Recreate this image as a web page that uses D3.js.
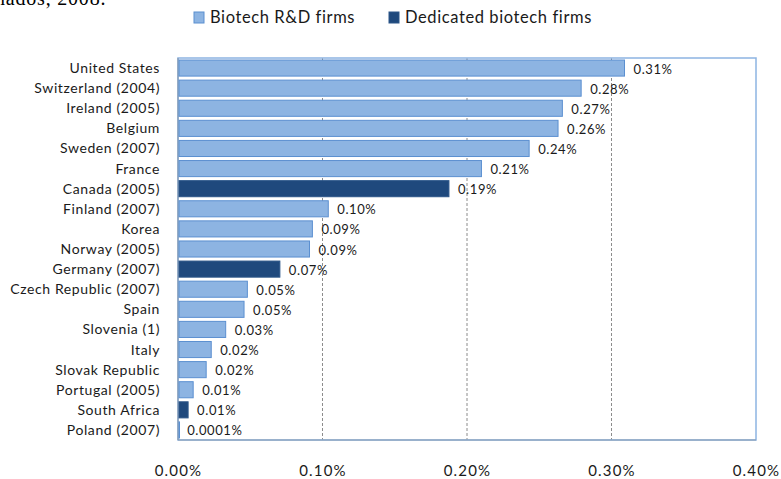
<!DOCTYPE html>
<html><head><meta charset="utf-8">
<script src="https://cdn.jsdelivr.net/npm/d3@7/dist/d3.min.js"></script>
<style>body{margin:0;background:#fff}svg{display:block}</style>
</head><body>
<script>
const categories = ["United States","Switzerland (2004)","Ireland (2005)","Belgium","Sweden (2007)","France","Canada (2005)","Finland (2007)","Korea","Norway (2005)","Germany (2007)","Czech Republic (2007)","Spain","Slovenia (1)","Italy","Slovak Republic","Portugal (2005)","South Africa","Poland (2007)"];
const values = [0.309,0.279,0.266,0.263,0.243,0.210,0.1875,0.104,0.093,0.091,0.0705,0.048,0.0457,0.033,0.023,0.0195,0.0105,0.007,0.0001];
const valueLabels = ["0.31%","0.28%","0.27%","0.26%","0.24%","0.21%","0.19%","0.10%","0.09%","0.09%","0.07%","0.05%","0.05%","0.03%","0.02%","0.02%","0.01%","0.01%","0.0001%"];
const seriesType = ["rd","rd","rd","rd","rd","rd","ded","rd","rd","rd","ded","rd","rd","rd","rd","rd","rd","ded","rd"];
const seriesNames = ["Biotech R&D firms","Dedicated biotech firms"];
const xTicks = [0,0.1,0.2,0.3,0.4];
const xTickLabels = ["0.00%","0.10%","0.20%","0.30%","0.40%"];

const W=781,H=479;
const svg=d3.select("body").append("svg").attr("width",W).attr("height",H);
const font="Lato, 'Open Sans', sans-serif";
const colors={rd:"#8db4e2",ded:"#1f497d"};
const strokes={rd:"#5b8fd0",ded:"#2c5689"};

// partial caption at top
svg.append("text").attr("x",-5).attr("y",5).attr("font-family","'Liberation Serif', serif").attr("font-size",20).attr("letter-spacing",0.8).attr("fill","#000").text("nados, 2008.");

const pL=178,pR=756,pT=58,pB=440;
const x=d3.scaleLinear().domain([0,0.4]).range([pL,pR]);
const y=d3.scaleBand().domain(categories).range([pT,pB]).paddingInner(0.2).paddingOuter(0.1);

// gridlines
svg.append("g").selectAll("line").data(xTicks.slice(1,4)).join("line")
 .attr("x1",d=>x(d)).attr("x2",d=>x(d)).attr("y1",pT).attr("y2",pB)
 .attr("stroke","#8c8c8c").attr("stroke-dasharray","3,2").attr("stroke-width",1);

// plot border
svg.append("rect").attr("x",pL).attr("y",pT).attr("width",pR-pL).attr("height",pB-pT)
 .attr("fill","none").attr("stroke","#8db4e2").attr("stroke-width",1.5);
svg.append("line").attr("x1",pL).attr("x2",pL).attr("y1",pT).attr("y2",pB).attr("stroke","#8a9bb0").attr("stroke-width",1.2);
svg.append("line").attr("x1",pL).attr("x2",pR).attr("y1",pB).attr("y2",pB).attr("stroke","#8a9bb0").attr("stroke-width",1.2);

// bars
svg.append("g").selectAll("rect").data(categories).join("rect")
 .attr("x",x(0)+1).attr("y",d=>y(d))
 .attr("width",(d,i)=>Math.max(0.5,x(values[i])-x(0)-1)).attr("height",y.bandwidth())
 .attr("fill",(d,i)=>colors[seriesType[i]]).attr("stroke",(d,i)=>strokes[seriesType[i]]).attr("stroke-width",1);

// value labels
svg.append("g").selectAll("text").data(categories).join("text")
 .attr("x",(d,i)=>x(values[i])+9).attr("y",d=>y(d)+y.bandwidth()/2+5.5)
 .attr("font-family",font).attr("font-size",13).attr("letter-spacing",0.6).attr("fill","#1a1a1a")
 .text((d,i)=>valueLabels[i]);

// category labels
svg.append("g").selectAll("text").data(categories).join("text")
 .attr("x",160).attr("y",d=>y(d)+y.bandwidth()/2+5).attr("text-anchor","end")
 .attr("font-family",font).attr("font-size",14).attr("letter-spacing",0.6).attr("fill","#1a1a1a").text(d=>d);

// x axis tick labels
const xa=d3.axisBottom(x).tickValues(xTicks).tickFormat((d,i)=>xTickLabels[i]).tickSize(0).tickPadding(0);
const g=svg.append("g").attr("transform",`translate(0,${pB+25})`).call(xa);
g.select(".domain").remove();
g.selectAll("text").attr("font-family",font).attr("font-size",15).attr("letter-spacing",1.2).attr("fill","#1a1a1a");

// legend
const leg=svg.append("g");
const legX=[191,386];
seriesNames.forEach((n,i)=>{
  const k=i===0?"rd":"ded";
  leg.append("rect").attr("x",legX[i]+3).attr("y",12).attr("width",10).attr("height",11).attr("fill",colors[k]).attr("stroke",strokes[k]);
  leg.append("text").attr("x",legX[i]+19).attr("y",23).attr("font-family",font).attr("font-size",16.5).attr("letter-spacing",0.6).attr("fill","#1a1a1a").text(n);
});
</script>
</body></html>
